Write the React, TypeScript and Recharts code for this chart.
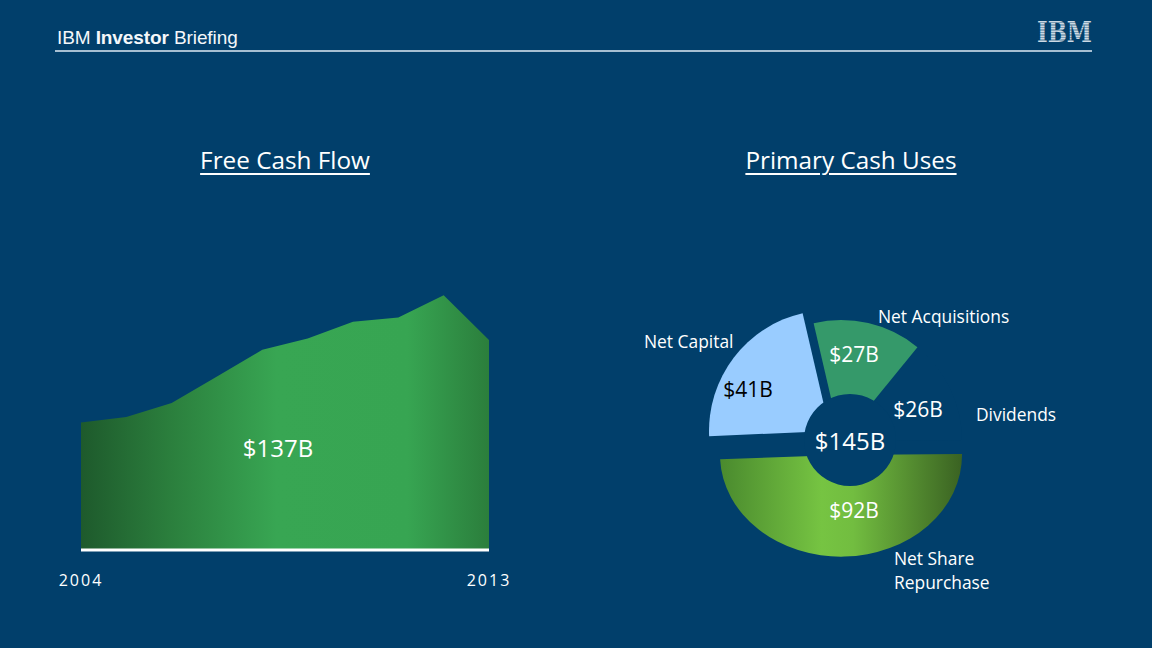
import { Area, AreaChart, Cell, Pie, PieChart, XAxis, YAxis } from "recharts";

const BG = "#013f6b";
const FONT = "'Open Sans', sans-serif";

// free cash flow, $B per year
const years = ["2004", "2005", "2006", "2007", "2008", "2009", "2010", "2011", "2012", "2013"];
const freeCashFlow = [9.1, 9.5, 10.5, 12.4, 14.3, 15.1, 16.3, 16.6, 18.2, 15.0];
const yearTicks = ["2004", "2013"];
const fcfTotalLabel = "$137B";

// primary cash uses, $B
const useNames = ["Dividends", "Net Acquisitions", "Net Capital", "Net Share Repurchase"];
const useValues = [26, 27, 41, 92];
const useTotal = 145;

const fcfData = years.map((year, i) => ({ year, fcf: freeCashFlow[i] }));
const useData = useNames.map((name, i) => ({ name, value: useValues[i] }));
const totalData = [{ name: "Total", value: useTotal }];

// pie centre inside the pie chart box
const PIE_CX = 241;
const PIE_CY = 191;

const sliceStyles = [
  { fill: BG, shift: "none", valueColor: "#fff", valueAt: [77, -32], nameAt: [135, -27], lines: ["Dividends"] },
  { fill: "#35996a", shift: "none", valueColor: "#fff", valueAt: [13, -87], nameAt: [37, -125], lines: ["Net Acquisitions"] },
  { fill: "#99ccff", shift: "translate(-11px,-10px)", valueColor: "#000", valueAt: [-93, -52], nameAt: [-197, -100], lines: ["Net Capital"] },
  {
    fill: "url(#repurchaseGrad)",
    shift: "translate(0px,14px) scale(1,0.84)",
    valueColor: "#fff",
    valueAt: [13, 69],
    nameAt: [53, 117],
    lines: ["Net Share", "Repurchase"],
  },
];

function renderUseLabel(props: any) {
  const { cx, cy, index, value } = props;
  const s = sliceStyles[index];
  return (
    <g key={`lbl-${index}`}>
      <text
        x={cx + s.valueAt[0]}
        y={cy + s.valueAt[1]}
        textAnchor="middle"
        dominantBaseline="central"
        fill={s.valueColor}
        fontSize={21}
        fontFamily={FONT}
      >
        {`$${value}B`}
      </text>
      {s.lines.map((line, i) => (
        <text
          key={line}
          x={cx + s.nameAt[0]}
          y={cy + s.nameAt[1] + i * 24}
          textAnchor="start"
          dominantBaseline="central"
          fill="#fff"
          fontSize={17.4}
          fontFamily={FONT}
        >
          {line}
        </text>
      ))}
    </g>
  );
}

function renderTotalLabel(props: any) {
  const { cx, cy, value } = props;
  return (
    <text
      x={cx}
      y={cy}
      textAnchor="middle"
      dominantBaseline="central"
      fill="#fff"
      fontSize={24}
      fontFamily={FONT}
    >
      {`$${value}B`}
    </text>
  );
}

function IbmLogo() {
  return (
    <svg width={76} height={44} style={{ position: "absolute", left: 1026, top: 10 }}>
      <defs>
        <pattern id="ibmStripes" width={8} height={2.5} patternUnits="userSpaceOnUse">
          <rect x={0} y={0.4} width={8} height={1.7} fill="#eef3f8" />
        </pattern>
      </defs>
      <text
        x={11}
        y={32}
        textLength={55}
        lengthAdjust="spacingAndGlyphs"
        fontFamily="'DejaVu Serif', serif"
        fontWeight="bold"
        fontSize={27.5}
        fill="url(#ibmStripes)"
      >
        IBM
      </text>
    </svg>
  );
}

const titleStyle = {
  position: "absolute" as const,
  top: 143,
  width: 400,
  textAlign: "center" as const,
  color: "#fff",
  fontFamily: FONT,
  fontSize: 24.3,
  textDecoration: "underline",
  textUnderlineOffset: 4,
  textDecorationThickness: 1.5,
};

export default function App() {
  return (
    <div
      style={{
        position: "relative",
        width: 1152,
        height: 648,
        background: BG,
        overflow: "hidden",
        fontFamily: FONT,
      }}
    >
      <style>{"body{margin:0}"}</style>

      <div
        style={{
          position: "absolute",
          left: 57,
          top: 27,
          color: "#f4f7fa",
          fontFamily: "'Liberation Sans', Arial, sans-serif",
          fontSize: 19,
          letterSpacing: -0.1,
        }}
      >
        IBM <b>Investor</b> Briefing
      </div>
      <div style={{ position: "absolute", left: 55, top: 50, width: 1037, height: 2, background: "#a7bfd2" }} />
      <IbmLogo />

      <div style={{ ...titleStyle, left: 85 }}>Free Cash Flow</div>
      <div style={{ ...titleStyle, left: 651 }}>Primary Cash Uses</div>

      <div style={{ position: "absolute", left: 0, top: 0 }}>
        <AreaChart width={560} height={620} data={fcfData} margin={{ top: 270, right: 71, left: 81, bottom: 40 }}>
          <defs>
            <linearGradient id="fcfGrad" x1="0" y1="0" x2="1" y2="0">
              <stop offset="0%" stopColor="#1e5a2c" />
              <stop offset="22%" stopColor="#2b7f3d" />
              <stop offset="48%" stopColor="#38a653" />
              <stop offset="80%" stopColor="#37a552" />
              <stop offset="100%" stopColor="#2b7e3c" />
            </linearGradient>
          </defs>
          <XAxis
            dataKey="year"
            ticks={yearTicks}
            interval={0}
            tickLine={false}
            tickMargin={19}
            axisLine={{ stroke: "#fff", strokeWidth: 3 }}
            tick={{ fill: "#fff", fontSize: 16, fontFamily: FONT, letterSpacing: 2 }}
          />
          <YAxis hide domain={[0, 20]} />
          <Area
            type="linear"
            dataKey="fcf"
            stroke="none"
            fill="url(#fcfGrad)"
            fillOpacity={1}
            dot={false}
            activeDot={false}
            isAnimationActive={false}
          />
        </AreaChart>
      </div>

      <div
        style={{
          position: "absolute",
          left: 178,
          top: 431,
          width: 200,
          textAlign: "center",
          color: "#fff",
          fontSize: 24,
        }}
      >
        {fcfTotalLabel}
      </div>

      <div style={{ position: "absolute", left: 600, top: 250 }}>
        <PieChart width={500} height={380} margin={{ top: 0, right: 0, bottom: 0, left: 0 }}>
          <defs>
            <linearGradient id="repurchaseGrad" x1="0" y1="0" x2="1" y2="0">
              <stop offset="0%" stopColor="#4a8a2e" />
              <stop offset="42%" stopColor="#76c442" />
              <stop offset="55%" stopColor="#72bd40" />
              <stop offset="100%" stopColor="#3a6222" />
            </linearGradient>
          </defs>
          <Pie
            data={useData}
            dataKey="value"
            nameKey="name"
            cx={PIE_CX}
            cy={PIE_CY}
            innerRadius={0}
            outerRadius={121}
            startAngle={0.5}
            endAngle={360.5}
            stroke="none"
            label={renderUseLabel}
            labelLine={false}
            isAnimationActive={false}
          >
            {useData.map((d, i) => (
              <Cell
                key={d.name}
                fill={sliceStyles[i].fill}
                style={{ transform: sliceStyles[i].shift, transformOrigin: `${PIE_CX}px ${PIE_CY}px` }}
              />
            ))}
          </Pie>
          <Pie
            data={totalData}
            dataKey="value"
            cx={PIE_CX + 9}
            cy={PIE_CY - 1}
            innerRadius={0}
            outerRadius={46}
            stroke="none"
            fill={BG}
            label={renderTotalLabel}
            labelLine={false}
            isAnimationActive={false}
          />
        </PieChart>
      </div>
    </div>
  );
}
